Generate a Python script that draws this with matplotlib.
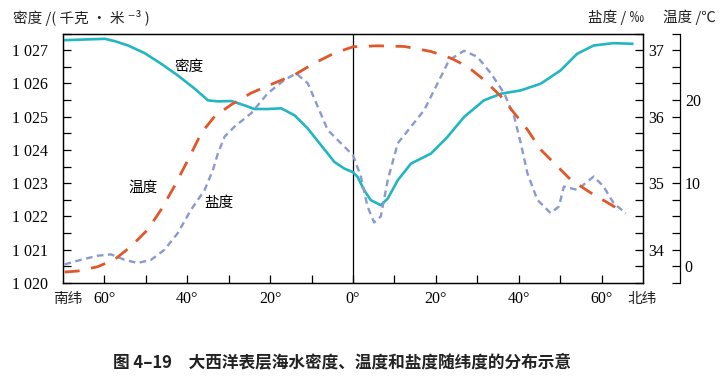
import matplotlib
matplotlib.use("Agg")
import matplotlib.pyplot as plt
from matplotlib.ticker import MultipleLocator, FixedLocator

CJK = ['Noto Sans CJK SC', 'DejaVu Sans']
plt.rcParams['font.family'] = ['Liberation Serif', 'DejaVu Serif']

# density (kg/m3) vs latitude (south negative)
dens_lat = [-69.6, -59.9, -57.5, -54.3, -50.3, -46.3, -42.3, -38.2, -35.0, -32.6, -29.4, -26.2,
            -23.8, -20.6, -17.3, -14.1, -10.9, -7.7, -4.5, -2.1, 0.0, 1.1, 2.7, 4.3, 6.7, 8.4,
            10.8, 14.0, 18.8, 22.8, 26.8, 31.6, 35.7, 40.5, 45.3, 50.1, 54.1, 58.1, 62.9, 67.4]
dens_val = [1027.30, 1027.34, 1027.27, 1027.14, 1026.91, 1026.59, 1026.24, 1025.84, 1025.49,
            1025.46, 1025.47, 1025.34, 1025.23, 1025.23, 1025.25, 1025.04, 1024.64, 1024.14,
            1023.64, 1023.44, 1023.33, 1023.19, 1022.79, 1022.49, 1022.34, 1022.54, 1023.09,
            1023.59, 1023.89, 1024.39, 1024.99, 1025.49, 1025.69, 1025.79, 1025.99, 1026.39,
            1026.89, 1027.14, 1027.21, 1027.19]

# temperature (C)
temp_lat = [-69.6, -66.4, -61.6, -57.5, -53.5, -49.5, -46.3, -43.1, -39.8, -36.6, -33.4, -29.4,
            -24.6, -19.0, -14.1, -9.3, -4.5, 0.0, 5.9, 12.4, 18.8, 23.6, 27.6, 31.6, 35.7, 38.9,
            42.1, 45.3, 48.5, 52.5, 57.4, 62.2, 65.8]
temp_val = [-0.68, -0.56, -0.04, 0.84, 2.44, 4.44, 6.84, 9.64, 12.84, 16.04, 18.04, 19.44,
            20.84, 22.04, 23.04, 24.44, 25.64, 26.4, 26.52, 26.44, 25.84, 25.04, 24.04, 22.44,
            20.44, 18.44, 16.44, 14.04, 12.44, 10.44, 8.84, 7.44, 6.36]

# salinity (per mille)
sal_lat = [-69.6, -65.6, -61.6, -58.4, -55.2, -52.0, -48.7, -45.5, -42.3, -39.1, -35.8, -33.8,
           -32.6, -31.0, -28.6, -24.6, -20.6, -16.6, -13.7, -10.9, -8.5, -6.1, -2.9, 0.0, 1.9,
           3.5, 5.1, 6.7, 8.4, 10.8, 14.0, 17.2, 20.4, 23.2, 26.8, 30.0, 33.3, 36.5, 38.9, 40.5,
           42.1, 44.5, 47.7, 49.7, 50.9, 54.1, 58.1, 60.5, 62.9, 65.8]
sal_val = [33.78, 33.85, 33.91, 33.93, 33.85, 33.80, 33.85, 34.00, 34.25, 34.60, 34.90, 35.20,
           35.45, 35.70, 35.85, 36.05, 36.35, 36.55, 36.65, 36.50, 36.15, 35.80, 35.60, 35.42,
           35.10, 34.65, 34.41, 34.50, 35.05, 35.60, 35.85, 36.10, 36.50, 36.85, 36.99, 36.90,
           36.65, 36.35, 36.00, 35.60, 35.15, 34.75, 34.55, 34.65, 34.95, 34.90, 35.10, 34.95,
           34.70, 34.55]

x_ticks = [-60, -40, -20, 0, 20, 40, 60]
x_labels = ['60°', '40°', '20°', '0°', '20°', '40°', '60°']
dens_ticks = [1020, 1021, 1022, 1023, 1024, 1025, 1026, 1027]
dens_labels = ['1 020', '1 021', '1 022', '1 023', '1 024', '1 025', '1 026', '1 027']
sal_ticks = [34, 35, 36, 37]
temp_ticks = [0, 10, 20]

c_dens = '#22b6c1'
c_temp = '#e2572a'
c_sal = '#8a9ad0'

fig = plt.figure(figsize=(7.22, 3.77), dpi=100)
ax = fig.add_axes([63/722, 1-283/377, 580/722, 249.5/377])
ax_s = ax.twinx()
ax_t = ax.twinx()
ax_t.spines['right'].set_position(('axes', 1 + 37/580))
for s in ['left', 'top', 'bottom']:
    ax_t.spines[s].set_visible(False)

ax.plot(dens_lat, dens_val, color=c_dens, lw=1.9, solid_joinstyle='round', zorder=3)
ax_t.plot(temp_lat, temp_val, color=c_temp, lw=2.0, dashes=(5.4, 4.2))
ax_s.plot(sal_lat, sal_val, color=c_sal, lw=1.7, dashes=(2.8, 1.9))

ax.axvline(0, color='black', lw=0.9)

ax.set_xlim(-70, 70)
ax.set_ylim(1020, 1027.5)
ax_s.set_ylim(33.5, 37.25)
ax_t.set_ylim(-2, 28)

ax.set_xticks(x_ticks)
ax.set_xticklabels(x_labels, fontsize=11.5)
ax.xaxis.set_minor_locator(FixedLocator([-50, -30, -10, 10, 30, 50]))
ax.tick_params(axis='x', which='both', direction='in', length=6, width=0.9, pad=6)

ax.set_yticks(dens_ticks)
ax.set_yticklabels(dens_labels, fontsize=11.5)
ax.yaxis.set_minor_locator(MultipleLocator(0.5))
ax.tick_params(axis='y', which='both', direction='in', length=6, width=0.9, pad=11)

ax_s.set_yticks(sal_ticks)
ax_s.set_yticklabels([str(v) for v in sal_ticks], fontsize=11.5)
ax_s.yaxis.set_minor_locator(MultipleLocator(0.25))
ax_s.tick_params(axis='y', which='both', direction='in', length=6, width=0.9, pad=3.5)

ax_t.set_yticks(temp_ticks)
ax_t.set_yticklabels([str(v) for v in temp_ticks], fontsize=11.5)
ax_t.yaxis.set_minor_locator(MultipleLocator(2))
ax_t.tick_params(axis='y', which='both', direction='in', length=6, width=0.9, pad=3.5)

for a in (ax, ax_s, ax_t):
    for sp in a.spines.values():
        sp.set_linewidth(0.9)

# hemisphere labels at the ends of the x axis
ax.text(-68.8, -0.035, '南纬', transform=ax.get_xaxis_transform(), ha='center', va='top',
        fontfamily=CJK, fontsize=10.5, color='#222222')
ax.text(69.8, -0.035, '北纬', transform=ax.get_xaxis_transform(), ha='center', va='top',
        fontfamily=CJK, fontsize=10.5, color='#222222')

# curve labels
ax.text(-39.5, 1026.49, '密度', ha='center', va='center', fontfamily=CJK, fontsize=10.5)
ax.text(-50.6, 1022.85, '温度', ha='center', va='center', fontfamily=CJK, fontsize=10.5)
ax.text(-32.3, 1022.4, '盐度', ha='center', va='center', fontfamily=CJK, fontsize=10.5)

# axis headers
fig.text(13/722, 1-18/377, '密度 /( 千克 · 米 ⁻³ )', ha='left', va='center',
         fontfamily=CJK, fontsize=10.5, color='#222222')
fig.text(588/722, 1-17/377, '盐度 / ‰', ha='left', va='center',
         fontfamily=CJK, fontsize=10.5, color='#222222')
fig.text(663/722, 1-17/377, '温度 /℃', ha='left', va='center',
         fontfamily=CJK, fontsize=10.5, color='#222222')

fig.text(113/722, 1-362/377, '图 4–19\u3000大西洋表层海水密度、温度和盐度随纬度的分布示意',
         ha='left', va='center', fontfamily=CJK, fontsize=12, fontweight='bold', color='#222222')

fig.savefig('out.png', dpi=100)
